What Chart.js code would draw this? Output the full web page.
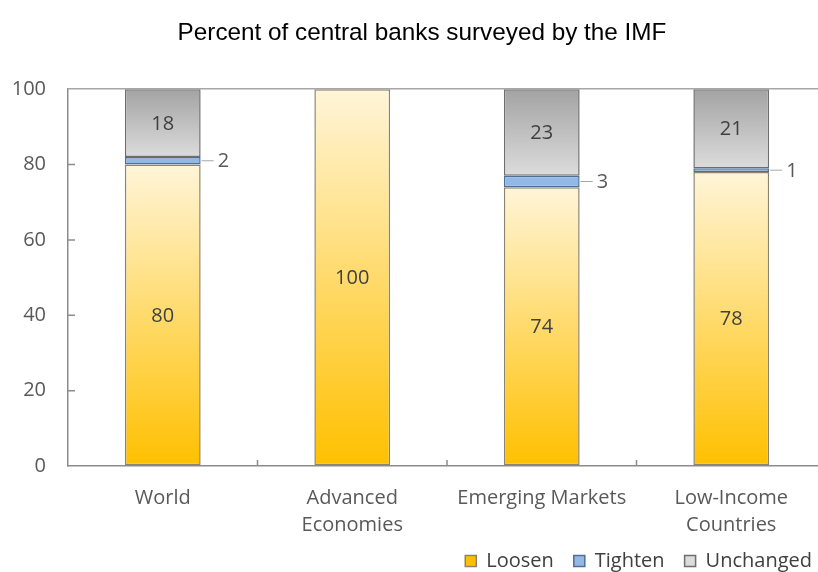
<!DOCTYPE html>
<html>
<head>
<meta charset="utf-8">
<script src="https://cdn.jsdelivr.net/npm/chart.js@4.4.1/dist/chart.umd.min.js"></script>
<style>
html,body{margin:0;padding:0;background:#fff;overflow:hidden}
</style>
</head>
<body>
<canvas id="banks" width="830" height="572"></canvas>
<script>
var categories = ['World', ['Advanced', 'Economies'], 'Emerging Markets', ['Low-Income', 'Countries']]
var loosen = [80, 100, 74, 78]
var tighten = [2, 0, 3, 1]
var unchanged = [18, 0, 23, 21]
var yTicks = [0, 20, 40, 60, 80, 100]

var tickFont = {family: '"Open Sans", "Noto Sans", sans-serif', size: 20, lineHeight: 1.35}
var axisColor = '#8c8c8c'

// vertical gradient over one bar segment, from its top value to its bottom value
var segmentFill = function(c, topVal, bottomVal, topColor, bottomColor, flat){
  var chart = c.chart
  if(!chart.chartArea || c.type !== 'data') return flat
  var y = chart.scales.y
  var g = chart.ctx.createLinearGradient(0, y.getPixelForValue(topVal), 0, y.getPixelForValue(bottomVal))
  g.addColorStop(0, topColor)
  g.addColorStop(1, bottomColor)
  return g
}
var loosenFill = function(c){
  return segmentFill(c, loosen[c.dataIndex], 0, '#fff5d8', '#ffc000', '#ffd34d')
}
var unchangedFill = function(c){
  var i = c.dataIndex
  return segmentFill(c, 100, loosen[i] + tighten[i], '#a3a3a3', '#dcdcdc', '#bfbfbf')
}

var segmentLabels = {
  id: 'segmentLabels',
  afterDatasetsDraw: function(chart){
    var ctx = chart.ctx
    ctx.save()
    ctx.font = '20px "Open Sans", "Noto Sans", sans-serif'
    ctx.textBaseline = 'middle'
    chart.data.datasets.forEach(function(ds, di){
      chart.getDatasetMeta(di).data.forEach(function(bar, i){
        var v = ds.data[i]
        if(!v) return
        var mid = (bar.y + bar.base) / 2
        if(ds.label === 'Tighten'){
          var right = bar.x + bar.width / 2
          ctx.strokeStyle = '#a6a6a6'
          ctx.lineWidth = 1
          ctx.beginPath()
          ctx.moveTo(right + 1, mid)
          ctx.lineTo(right + 13, mid)
          ctx.stroke()
          ctx.fillStyle = '#595959'
          ctx.textAlign = 'left'
          ctx.fillText(v, right + 17, mid + 1)
        }
        else{
          ctx.fillStyle = '#404040'
          ctx.textAlign = 'center'
          ctx.fillText(v, bar.x, mid + 1)
        }
      })
    })
    ctx.restore()
  }
}

// small inward tick marks like the original axes
var tickMarks = {
  id: 'tickMarks',
  beforeDatasetsDraw: function(chart){
    var ctx = chart.ctx
    var x = chart.scales.x
    var y = chart.scales.y
    var area = chart.chartArea
    ctx.save()
    ctx.strokeStyle = axisColor
    ctx.lineWidth = 1.5
    ctx.beginPath()
    yTicks.forEach(function(t){
      if(t === 0 || t === 100) return
      var py = y.getPixelForValue(t)
      ctx.moveTo(area.left, py)
      ctx.lineTo(area.left + 7, py)
    })
    for(var i = 0; i < categories.length - 1; i++){
      var px = (x.getPixelForValue(i) + x.getPixelForValue(i + 1)) / 2
      ctx.moveTo(px, area.bottom)
      ctx.lineTo(px, area.bottom - 6)
    }
    ctx.stroke()
    ctx.restore()
  }
}

var boxNudge = {
  id: 'boxNudge',
  afterLayout: function(chart){
    var l = chart.legend
    l.left += 6
    l.right += 6
    l.top -= 9
    l.bottom -= 9
    var t = chart.titleBlock
    if(t){
      t.left += 9
      t.right += 9
      t.top += 1
      t.bottom += 1
    }
  }
}

new Chart(document.getElementById('banks'), {
  type: 'bar',
  data: {
    labels: categories,
    datasets: [
      {label: 'Loosen', data: loosen, backgroundColor: loosenFill, borderColor: '#8c8470'},
      {label: 'Tighten', data: tighten, backgroundColor: '#92b8e5', borderColor: '#4f6f94'},
      {label: 'Unchanged', data: unchanged, backgroundColor: unchangedFill, borderColor: '#6e6e6e'}
    ]
  },
  options: {
    responsive: false,
    animation: false,
    layout: {padding: {left: 0, right: 4, top: 0, bottom: -18}},
    datasets: {
      bar: {barPercentage: 0.4, categoryPercentage: 1, borderWidth: 1.5, borderSkipped: false}
    },
    plugins: {
      title: {
        display: true,
        text: 'Percent of central banks surveyed by the IMF',
        color: '#000',
        font: {family: '"Liberation Sans", Arial, sans-serif', size: 24.3, weight: 'normal', lineHeight: 1.2},
        padding: {top: 18, bottom: 42}
      },
      legend: {
        position: 'bottom',
        align: 'end',
        labels: {
          boxWidth: 11,
          boxHeight: 11,
          padding: 20,
          color: '#404040',
          font: {family: '"Open Sans", "Noto Sans", sans-serif', size: 20}
        }
      },
      tooltip: {enabled: false}
    },
    scales: {
      x: {
        stacked: true,
        grid: {display: false},
        border: {display: true, color: axisColor, width: 1.5},
        ticks: {color: '#595959', font: tickFont, padding: 11, maxRotation: 0, autoSkip: false},
        afterFit: function(s){ s.height = 74 }
      },
      y: {
        stacked: true,
        min: 0,
        max: 100,
        afterBuildTicks: function(s){ s.ticks = yTicks.map(function(v){ return {value: v} }) },
        grid: {
          drawTicks: false,
          lineWidth: 1.5,
          color: function(c){ return c.tick && c.tick.value === 100 ? '#a6a6a6' : 'rgba(0,0,0,0)' }
        },
        border: {display: true, color: axisColor, width: 1.5},
        ticks: {color: '#595959', font: tickFont, padding: 22},
        afterFit: function(s){ s.width = 68 }
      }
    }
  },
  plugins: [tickMarks, segmentLabels, boxNudge]
})
</script>
</body>
</html>
